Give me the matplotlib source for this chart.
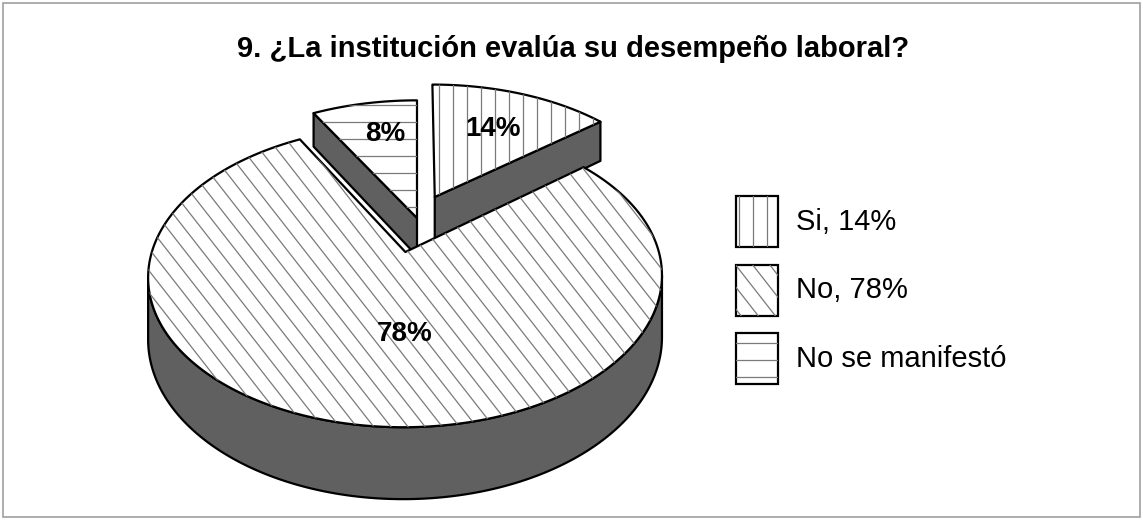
import numpy as np
import matplotlib
matplotlib.use("Agg")
import matplotlib.pyplot as plt
from matplotlib.patches import Polygon, Rectangle
from matplotlib.collections import LineCollection

# data
labels = ["Si, 14%", "No, 78%", "No se manifestó"]
values = [14, 78, 8]
pct_text = ["14%", "78%", "8%"]
explode = [0.175, 0.245, 0.0]
title = "9. ¿La institución evalúa su desempeño laboral?"

# styling / geometry (pixels)
hatch_angle = [90, 52, 0]
hatch_step = [14, 13.5, 17]
heights = [44, 58, 38]
label_xy = [(493, 129), (405, 334), (385, 134)]
CX, CY, A, B, K = 417, 218, 244, 136, -0.156
DARK = "#606060"
BOLD = ["Liberation Sans", "DejaVu Sans"]

fig = plt.figure(figsize=(11.43, 5.25), dpi=100)
ax = fig.add_axes([0, 0, 1, 1])
ax.set_xlim(0, 1143)
ax.set_ylim(525, 0)
ax.axis("off")


def proj(u, v, drop=0.0):
    s = 1.0 / (1 + K * v)
    return CX + A * u * s, CY + (B * v + drop) * s


def hatch(patch, angle, step, box):
    x0, y0, x1, y1 = box
    cx, cy = (x0 + x1) / 2, (y0 + y1) / 2
    L = np.hypot(x1 - x0, y1 - y0)
    a = np.radians(angle)
    d = np.array([np.cos(a), np.sin(a)])
    n = np.array([-d[1], d[0]])
    segs = []
    for off in np.arange(-L, L, step):
        p = np.array([cx, cy]) + n * off
        segs.append([p - d * L, p + d * L])
    lc = LineCollection(segs, colors="#7a7a7a", linewidths=0.9, zorder=patch.get_zorder() + 0.1)
    ax.add_collection(lc)
    lc.set_clip_path(patch)


def face(pts, fc, z, lw=1.6):
    p = Polygon(pts, closed=True, facecolor=fc, edgecolor="black", lw=lw, zorder=z, joinstyle="round")
    ax.add_patch(p)
    return p


starts = np.cumsum([0] + values[:-1]) * 3.6
ends = np.cumsum(values) * 3.6
mids = (starts + ends) / 2
order = [0, 2, 1]  # back slices first

for rank, i in enumerate(order):
    t0, t1 = starts[i], ends[i]
    m = np.radians(mids[i])
    ou, ov = explode[i] * np.sin(m), -explode[i] * np.cos(m)
    H = heights[i]
    z = 2 + rank * 3

    # outer wall, front part only
    full = np.radians(np.linspace(0, 360, 3601))
    xs, _ = proj(ou + np.sin(full), ov - np.cos(full))
    tr, tl = np.degrees(full[np.argmax(xs)]), np.degrees(full[np.argmin(xs)])
    a0, a1 = max(t0, tr), min(t1, tl)
    if a1 > a0:
        th = np.radians(np.linspace(a0, a1, 200))
        u, v = ou + np.sin(th), ov - np.cos(th)
        top = np.column_stack(proj(u, v))
        bot = np.column_stack(proj(u, v, H))
        face(np.vstack([top, bot[::-1]]), DARK, z)

    # radial walls
    for t, sgn in ((t0, -1), (t1, 1)):
        if sgn * np.sin(np.radians(t)) > 1e-6:
            r = np.radians(t)
            ur, vr = ou + np.sin(r), ov - np.cos(r)
            pts = [proj(ou, ov), proj(ur, vr), proj(ur, vr, H), proj(ou, ov, H)]
            face(pts, DARK, z)

    # top face
    th = np.radians(np.linspace(t0, t1, 300))
    arc = np.column_stack(proj(ou + np.sin(th), ov - np.cos(th)))
    pts = np.vstack([proj(ou, ov), arc])
    top = face(pts, "white", z + 1)
    box = (pts[:, 0].min(), pts[:, 1].min(), pts[:, 0].max(), pts[:, 1].max())
    hatch(top, hatch_angle[i], hatch_step[i], box)

    lx, ly = label_xy[i]
    ax.text(lx, ly, pct_text[i], family=BOLD, fontweight="bold", fontsize=20,
            ha="center", va="center", zorder=20)

# legend
for j, lab in enumerate(labels):
    y0 = 196 + j * 68.5
    r = Rectangle((736, y0), 42, 51, facecolor="white", edgecolor="black", lw=1.6, zorder=10)
    ax.add_patch(r)
    hatch(r, hatch_angle[j], hatch_step[j], (736, y0, 778, y0 + 51))
    ax.text(796, y0 + 26, lab, family=["Liberation Sans", "DejaVu Sans"], fontsize=21,
            ha="left", va="center", zorder=10)

ax.text(573, 49, title, family=BOLD, fontweight="bold", fontsize=21,
        ha="center", va="center")

ax.add_patch(Rectangle((3, 3), 1137, 514, fill=False, edgecolor="#a0a0a0", lw=1.2, zorder=0))

fig.savefig("out.png", dpi=100, facecolor="white")
